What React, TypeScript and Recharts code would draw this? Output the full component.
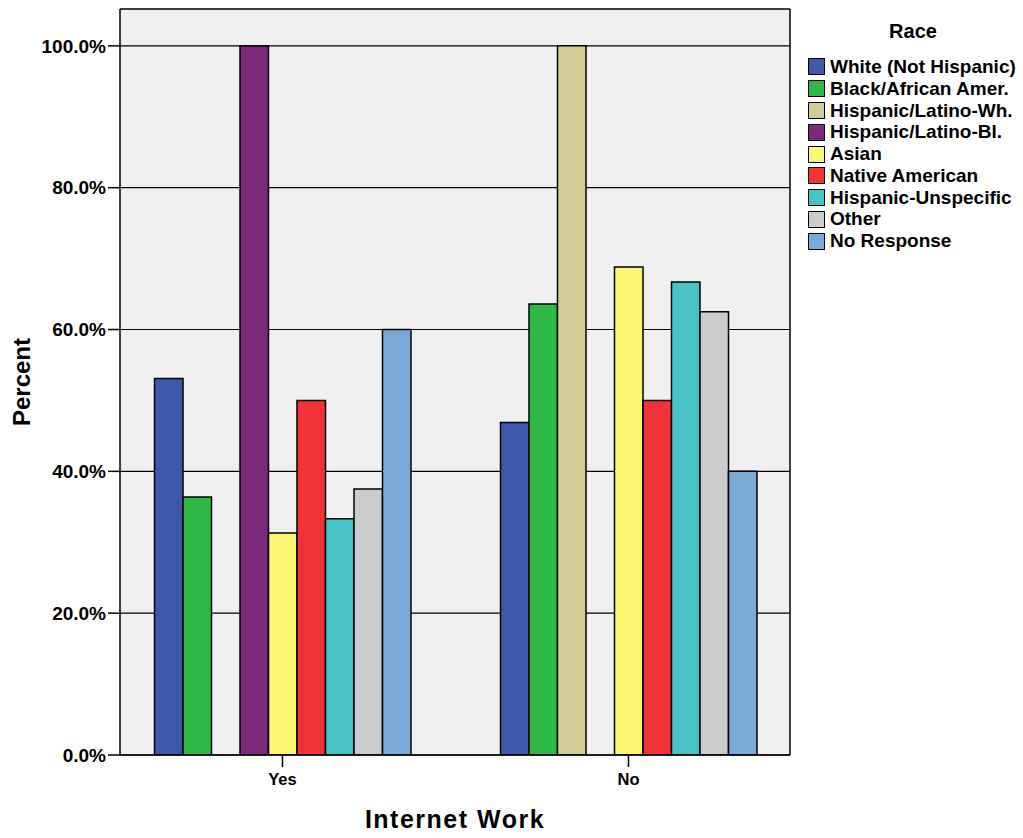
import React from "react";
import {
  BarChart,
  Bar,
  XAxis,
  YAxis,
  CartesianGrid,
  Label,
} from "recharts";

const groups = ["Yes", "No"];
const yTicks = [0, 20, 40, 60, 80, 100];

const races = [
  "White (Not Hispanic)",
  "Black/African Amer.",
  "Hispanic/Latino-Wh.",
  "Hispanic/Latino-Bl.",
  "Asian",
  "Native American",
  "Hispanic-Unspecific",
  "Other",
  "No Response",
];

const colors = [
  "#3E58AC",
  "#2EB848",
  "#D3CE97",
  "#7A297B",
  "#FAF773",
  "#EF3339",
  "#48C2C5",
  "#CCCCCC",
  "#7BAAD6",
];

// percent per group (Yes, No); null = no bar
const white = [53.1, 46.9];
const black = [36.4, 63.6];
const hispWh = [null, 100];
const hispBl = [100, null];
const asian = [31.3, 68.8];
const native = [50, 50];
const hispUnspec = [33.3, 66.7];
const other = [37.5, 62.5];
const noResponse = [60, 40];

const series = [white, black, hispWh, hispBl, asian, native, hispUnspec, other, noResponse];

const data = groups.map((g, i) => {
  const row: Record<string, string | number | null> = { group: g };
  series.forEach((s, k) => {
    row["s" + k] = s[i];
  });
  return row;
});

const FONT = "'Liberation Sans', Arial, Helvetica, sans-serif";
const axisStroke = { stroke: "#000", strokeWidth: 1.5 };

const RaceLegend = () => (
  <div
    style={{
      position: "absolute",
      left: 808,
      top: 20,
      fontFamily: FONT,
      fontWeight: "bold",
      color: "#000",
    }}
  >
    <div style={{ fontSize: 20, textAlign: "center", width: 210, marginBottom: 13 }}>Race</div>
    {races.map((r, i) => (
      <div key={r} style={{ display: "flex", alignItems: "center", height: 21.8 }}>
        <div
          style={{
            width: 15,
            height: 15,
            background: colors[i],
            border: "1.5px solid #000",
            marginRight: 5,
          }}
        />
        <span style={{ fontSize: 19, whiteSpace: "nowrap" }}>{r}</span>
      </div>
    ))}
  </div>
);

export default function App() {
  return (
    <div style={{ position: "absolute", left: 0, top: 0, width: 1023, height: 838, background: "#fff" }}>
      <BarChart
        width={1023}
        height={838}
        data={data}
        margin={{ top: 9, right: 233, bottom: 0, left: 0 }}
        barGap={0}
        barSize={28.5}
      >
        <CartesianGrid
          vertical={false}
          stroke="#000"
          strokeWidth={1.2}
          fill="#F0F0F0"
          fillOpacity={1}
          syncWithTicks
        />
        {/* frame: top and right edges of the plot */}
        <CartesianGrid
          stroke="#000"
          strokeWidth={1.5}
          horizontalCoordinatesGenerator={({ offset }: any) => [offset.top]}
          verticalCoordinatesGenerator={({ offset }: any) => [offset.left + offset.width]}
        />
        <XAxis
          dataKey="group"
          height={83}
          padding={{ left: -10.5, right: -11.5 }}
          axisLine={axisStroke}
          tickLine={axisStroke}
          tickSize={12}
          tickMargin={6}
          tick={{ fill: "#000", fontSize: 16.5, fontWeight: "bold", fontFamily: FONT }}
        >
          <Label
            content={({ viewBox }: any) => (
              <text
                x={viewBox.x + viewBox.width / 2}
                y={viewBox.y + 73}
                textAnchor="middle"
                fontSize={25}
                fontWeight="bold"
                letterSpacing={1.5}
                fontFamily={FONT}
                fill="#000"
              >
                Internet Work
              </text>
            )}
          />
        </XAxis>
        <YAxis
          width={120}
          domain={[0, 105.2]}
          ticks={yTicks}
          allowDataOverflow
          axisLine={axisStroke}
          tickLine={axisStroke}
          tickSize={12}
          tickMargin={2}
          tickFormatter={(v: number) => v.toFixed(1) + "%"}
          tick={{ fill: "#000", fontSize: 19, fontWeight: "bold", fontFamily: FONT }}
        >
          <Label
            content={({ viewBox }: any) => {
              const cx = 21;
              const cy = viewBox.y + viewBox.height / 2;
              return (
                <text
                  x={cx}
                  y={cy}
                  transform={`rotate(-90 ${cx} ${cy})`}
                  textAnchor="middle"
                  dominantBaseline="central"
                  fontSize={24}
                  fontWeight="bold"
                  fontFamily={FONT}
                  fill="#000"
                >
                  Percent
                </text>
              );
            }}
          />
        </YAxis>
        {races.map((r, k) => (
          <Bar
            key={r}
            dataKey={"s" + k}
            name={r}
            fill={colors[k]}
            stroke="#000"
            strokeWidth={1.5}
            isAnimationActive={false}
          />
        ))}
      </BarChart>
      <RaceLegend />
    </div>
  );
}
